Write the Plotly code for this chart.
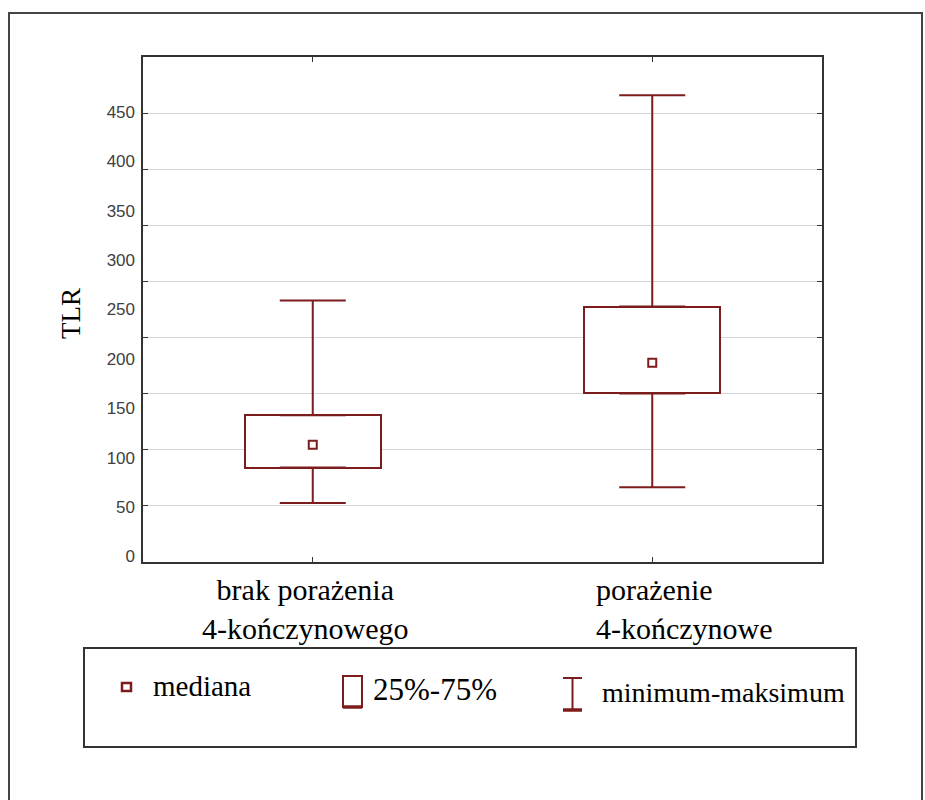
import plotly.graph_objects as go

# ---------------- data ----------------
categories = ["brak porażenia 4-kończynowego", "porażenie 4-kończynowe"]
label_lines = [["brak porażenia", "4-kończynowego"], ["porażenie", "4-kończynowe"]]
minimum = [54, 70]
q1 = [90, 165]
median = [113, 196]
q3 = [143, 253]
maximum = [259, 467]
y_ticks = [0, 50, 100, 150, 200, 250, 300, 350, 400, 450]
legend_labels = ["mediana", "25%-75%", "minimum-maksimum"]
y_title = "TLR"

# ---------------- style ----------------
W, H = 925, 800
L, R, T, B = 143, 822, 57, 562
MAROON = "#7d1c1c"
FRAME = "#333333"
SERIF = "Liberation Serif, Times New Roman, serif"
SANS = "Liberation Sans, Arial, sans-serif"


def px(xp):
    return (xp - L) / (R - L)


def py(yp):
    return (B - yp) / (B - T)


fig = go.Figure()

# helper trace that carries the grid axis (y2); draws nothing visible
fig.add_trace(go.Scatter(x=categories, y=[0, 0], yaxis="y2", mode="lines",
                         line=dict(width=0, color="rgba(0,0,0,0)"),
                         showlegend=False, hoverinfo="skip"))

# boxes (25%-75%)
fig.add_trace(go.Bar(
    x=categories, base=q1, y=[b - a for a, b in zip(q1, q3)], width=0.4,
    marker=dict(color="white", line=dict(color=MAROON, width=2)),
    showlegend=False, hoverinfo="skip"))

# upper whiskers
fig.add_trace(go.Scatter(
    x=categories, y=q3, mode="markers",
    marker=dict(size=1, color="rgba(0,0,0,0)"),
    error_y=dict(type="data", symmetric=False,
                 array=[mx - a for mx, a in zip(maximum, q3)],
                 arrayminus=[0, 0], width=33, thickness=2, color=MAROON),
    showlegend=False, hoverinfo="skip"))

# lower whiskers
fig.add_trace(go.Scatter(
    x=categories, y=q1, mode="markers",
    marker=dict(size=1, color="rgba(0,0,0,0)"),
    error_y=dict(type="data", symmetric=False, array=[0, 0],
                 arrayminus=[a - mn for a, mn in zip(q1, minimum)],
                 width=33, thickness=2, color=MAROON),
    showlegend=False, hoverinfo="skip"))

# medians
fig.add_trace(go.Scatter(
    x=categories, y=median, mode="markers",
    marker=dict(symbol="square", size=8, color="white",
                line=dict(color=MAROON, width=2)),
    showlegend=False, hoverinfo="skip"))

# y range so that 0 at pixel 556.4 and 450 at 112
k = (507 - 112) / 400.0
zero_px = 507 + 50 * k
y_lo = -(B - zero_px) / k
y_hi = (zero_px - T) / k

fig.update_layout(
    width=W, height=H,
    margin=dict(l=L, r=W - R, t=T, b=H - B, pad=0),
    paper_bgcolor="white", plot_bgcolor="white",
    showlegend=False,
    bargap=0,
    xaxis=dict(type="category", range=[-0.5, 1.5], showline=True, mirror="ticks",
               linecolor=FRAME, linewidth=2, ticks="inside", ticklen=5,
               tickcolor=FRAME, showgrid=False, showticklabels=False,
               zeroline=False),
    yaxis=dict(range=[y_lo, y_hi], tickvals=y_ticks, showgrid=False,
               showline=False, zeroline=False, ticks="",
               ticklabelstandoff=7,
               tickfont=dict(family=SANS, size=17, color="#404040")),
    yaxis2=dict(overlaying="y", anchor="x", side="left", range=[-1, 8],
                tick0=0, dtick=1, showticklabels=False, showgrid=True,
                gridcolor="#d6d6d6", gridwidth=1, ticks="inside", ticklen=5,
                tickcolor=FRAME, showline=True, mirror="ticks", linecolor=FRAME,
                linewidth=2, zeroline=False),
)

shapes = []
# outer frame
shapes.append(dict(type="rect", xref="paper", yref="paper",
                   x0=px(9), x1=px(922), y0=py(815), y1=py(13),
                   line=dict(color="#444444", width=2), layer="below"))
# legend frame
shapes.append(dict(type="rect", xref="paper", yref="paper",
                   x0=px(84), x1=px(856), y0=py(747), y1=py(648),
                   line=dict(color=FRAME, width=2)))
# median icon
shapes.append(dict(type="rect", xref="paper", yref="paper",
                   x0=px(122), x1=px(131), y0=py(691), y1=py(683),
                   fillcolor="white", line=dict(color=MAROON, width=2.5)))
# box icon
shapes.append(dict(type="rect", xref="paper", yref="paper",
                   x0=px(343), x1=px(362), y0=py(707), y1=py(676),
                   line=dict(color=MAROON, width=2)))
shapes.append(dict(type="line", xref="paper", yref="paper",
                   x0=px(343), x1=px(362), y0=py(707), y1=py(707),
                   line=dict(color=MAROON, width=3.5)))
# whisker icon
shapes.append(dict(type="line", xref="paper", yref="paper",
                   x0=px(572.5), x1=px(572.5), y0=py(678), y1=py(710),
                   line=dict(color=MAROON, width=2)))
shapes.append(dict(type="line", xref="paper", yref="paper",
                   x0=px(563), x1=px(582), y0=py(678), y1=py(678),
                   line=dict(color=MAROON, width=2)))
shapes.append(dict(type="line", xref="paper", yref="paper",
                   x0=px(563), x1=px(582), y0=py(710), y1=py(710),
                   line=dict(color=MAROON, width=3.5)))
fig.update_layout(shapes=shapes)

ann = []
# category labels
shifts = [-7, 32]
aligns = ["center", "left"]
for cat, lines, sh, al in zip(categories, label_lines, shifts, aligns):
    ann.append(dict(x=cat, xref="x", y=py(571), yref="paper", yanchor="top",
                    xanchor="center", xshift=sh, align=al, showarrow=False,
                    text="<br>".join(lines),
                    font=dict(family=SERIF, size=30, color="black")))
# y title
ann.append(dict(x=px(71), y=py(314), xref="paper", yref="paper", text=y_title,
                textangle=-90, showarrow=False, xanchor="center", yanchor="middle",
                font=dict(family=SERIF, size=27, color="black")))
# legend labels
leg_pos = [(151, 686, 29), (371, 689, 31), (600, 692, 28)]
for lab, (lx, ly, fs) in zip(legend_labels, leg_pos):
    ann.append(dict(x=px(lx), y=py(ly), xref="paper", yref="paper", text=lab,
                    showarrow=False, xanchor="left", yanchor="middle",
                    font=dict(family=SERIF, size=fs, color="black")))
fig.update_layout(annotations=ann)

fig.write_html("out.html")
